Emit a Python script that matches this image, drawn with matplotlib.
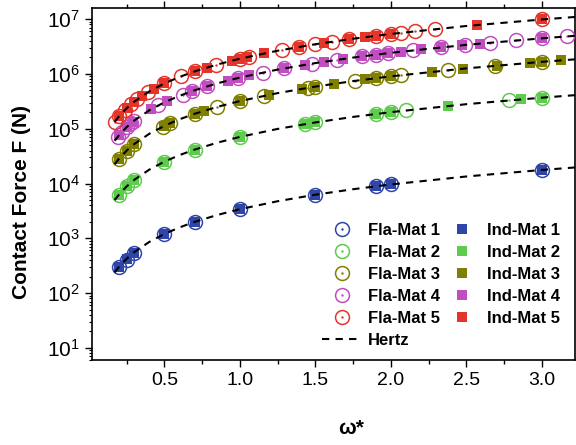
import numpy as np
import matplotlib.pyplot as plt
from matplotlib.legend_handler import HandlerTuple

plt.rcParams['font.family'] = ['Liberation Sans', 'DejaVu Sans']
plt.rcParams['mathtext.default'] = 'regular'

# ---- data ----
x_fla1 = [0.2, 0.25, 0.3, 0.5, 0.7, 1.0, 1.5, 1.9, 2.0, 3.0]
f_fla1 = [300, 410, 540, 1180, 1960, 3400, 6200, 8900, 9600, 17700]
x_ind1 = [0.2, 0.25, 0.3, 0.5, 0.7, 1.0, 1.5, 1.9, 2.0, 3.0]
f_ind1 = [295, 420, 550, 1200, 1990, 3420, 6250, 8950, 9650, 17800]

x_fla2 = [0.2, 0.25, 0.3, 0.5, 0.7, 1.0, 1.43, 1.5, 1.9, 2.0, 2.1, 2.78, 3.0]
f_fla2 = [6200, 8875, 11670, 25100, 41590, 71000, 121400, 130400, 186000, 200800, 216000, 329000, 368900]
x_ind2 = [0.2, 0.25, 0.3, 0.5, 0.7, 1.0, 1.43, 1.5, 1.9, 2.0, 2.38, 2.86, 3.0]
f_ind2 = [6250, 8900, 11700, 25200, 41700, 71200, 121800, 130800, 186500, 201500, 260700, 343400, 369500]

x_fla3 = [0.2, 0.25, 0.3, 0.49, 0.54, 0.7, 0.85, 1.0, 1.16, 1.45, 1.5, 1.76, 1.9, 2.0, 2.07, 2.38, 2.69, 3.0]
f_fla3 = [28600, 40000, 52600, 109800, 127000, 187400, 250800, 320000, 399700, 558700, 587800,
          747200, 838100, 905000, 953000, 1175000, 1412000, 1663000]
x_ind3 = [0.2, 0.25, 0.3, 0.5, 0.54, 0.7, 0.76, 1.0, 1.19, 1.41, 1.5, 1.62, 1.83, 1.9, 2.0,
          2.27, 2.48, 2.7, 2.92, 3.0, 3.13]
f_ind3 = [28600, 40000, 52600, 113200, 127000, 187400, 212000, 320000, 415400, 535700, 587800,
          659800, 792300, 838100, 905000, 1094000, 1250000, 1420000, 1597000, 1663000, 1772000]

x_fla4 = [0.19, 0.22, 0.25, 0.28, 0.3, 0.46, 0.62, 0.68, 0.78, 0.99, 1.15, 1.29, 1.48, 1.64,
          1.81, 1.9, 1.98, 2.15, 2.33, 2.49, 2.66, 2.83, 3.0, 3.17]
f_fla4 = [71200, 88800, 107500, 127300, 141300, 268300, 419700, 482500, 592500, 847100, 1060000,
          1260000, 1548000, 1806000, 2094000, 2252000, 2396000, 2711000, 3059000, 3380000,
          3731000, 4094000, 4469000, 4854000]
x_ind4 = [0.2, 0.25, 0.29, 0.41, 0.52, 0.68, 0.78, 0.92, 0.99, 1.06, 1.29, 1.43, 1.56, 1.68,
          1.81, 1.9, 1.98, 2.07, 2.2, 2.33, 2.47, 2.59, 3.0]
f_ind4 = [76900, 107500, 134200, 225800, 322500, 482500, 592500, 758900, 847100, 938300,
          1260000, 1471000, 1675000, 1873000, 2094000, 2252000, 2396000, 2561000, 2806000,
          3059000, 3339000, 3584000, 4469000]

x_fla5 = [0.17, 0.2, 0.24, 0.28, 0.32, 0.39, 0.5, 0.61, 0.7, 0.84, 1.0, 1.06, 1.28, 1.39, 1.5,
          1.61, 1.72, 1.9, 2.0, 2.07, 2.16, 2.29, 3.0]
f_fla5 = [133200, 169900, 223400, 281200, 343900, 462800, 671800, 905200, 1113000, 1463000,
          1900000, 2073000, 2751000, 3114000, 3490000, 3882000, 4286000, 4976000, 5373000,
          5658000, 6033000, 6584000, 9872000]
x_ind5 = [0.2, 0.25, 0.3, 0.35, 0.43, 0.5, 0.7, 0.78, 0.95, 1.0, 1.05, 1.16, 1.39, 1.56, 1.72,
          1.83, 1.9, 2.0, 2.57, 3.0]
f_ind5 = [169900, 237500, 312200, 393300, 535800, 671800, 1113000, 1309000, 1759000, 1900000,
          2044000, 2373000, 3114000, 3701000, 4286000, 4704000, 4976000, 5373000, 7828000, 9872000]

# Hertz curves
x_hertz = [0.17, 0.2, 0.25, 0.3, 0.4, 0.5, 0.6, 0.7, 0.85, 1.0, 1.25, 1.5, 1.75, 2.0, 2.5, 3.0, 3.22]
hertz1 = [238, 304, 425, 559, 860, 1202, 1580, 1991, 2665, 3400, 4752, 6246, 7871, 9615, 13440, 17670, 19645]
hertz2 = [4977, 6350, 8875, 11670, 17960, 25100, 33000, 41590, 55640, 71000, 99220, 130400, 164400,
          200800, 280700, 368900, 410200]
hertz3 = [22430, 28600, 40000, 52580, 80960, 113150, 148700, 187400, 250800, 320000, 447200, 587800,
          740800, 905000, 1265000, 1663000, 1849000]
hertz4 = [60290, 76900, 107500, 141300, 217600, 304100, 399700, 503700, 674000, 860000, 1202000,
          1580000, 1991000, 2432000, 3400000, 4469000, 4969000]
hertz5 = [133200, 169900, 237500, 312200, 480700, 671800, 883100, 1113000, 1489000, 1900000, 2655000,
          3490000, 4399000, 5373000, 7511000, 9872000, 10980000]

names = ['Mat 1', 'Mat 2', 'Mat 3', 'Mat 4', 'Mat 5']
colors = ['#2F45A8', '#5DCB4C', '#808000', '#C04EC0', '#E5352B']
fla = [(x_fla1, f_fla1), (x_fla2, f_fla2), (x_fla3, f_fla3), (x_fla4, f_fla4), (x_fla5, f_fla5)]
ind = [(x_ind1, f_ind1), (x_ind2, f_ind2), (x_ind3, f_ind3), (x_ind4, f_ind4), (x_ind5, f_ind5)]
hertz = [hertz1, hertz2, hertz3, hertz4, hertz5]

fig = plt.figure(figsize=(5.76, 4.45), dpi=100)
ax = fig.add_axes([92/576, 1-360/445, (575-92)/576, (360-8)/445])

h_fla = []
h_ind = []
for i in range(5):
    c = colors[i]
    hf, = ax.plot(fla[i][0], fla[i][1], 'o', mfc='none', mec=c, ms=10, mew=1.1, zorder=3)
    hd, = ax.plot(fla[i][0], fla[i][1], '.', color=c, ms=1.5, zorder=3)
    hi, = ax.plot(ind[i][0], ind[i][1], 's', color=c, ms=6.5, mew=0, zorder=2)
    h_fla.append((hf, hd))
    h_ind.append(hi)
for i in range(5):
    hh, = ax.plot(x_hertz, hertz[i], '--', color='k', lw=1.5, dashes=(3.5, 3), zorder=4)

ax.set_yscale('log')
ax.set_xlim(0.02, 3.22)
ax.set_ylim(6, 1.6e7)
ax.set_xticks([0.5, 1.0, 1.5, 2.0, 2.5, 3.0])
ax.set_xticks(np.arange(0.25, 3.2, 0.25), minor=True)
ax.set_yticks([1e1, 1e2, 1e3, 1e4, 1e5, 1e6, 1e7])
ax.tick_params(axis='x', which='major', direction='out', length=5, width=1, labelsize=14, top=True)
ax.tick_params(axis='x', which='minor', direction='out', length=3, width=1, top=True)
ax.tick_params(axis='y', which='major', direction='out', length=5, width=1, labelsize=15)
ax.tick_params(axis='y', which='minor', direction='out', length=2.5, width=0.8)
for s in ax.spines.values():
    s.set_linewidth(1.2)

ax.set_ylabel('Contact Force F (N)', fontsize=15, fontweight='bold')
ax.yaxis.set_label_coords(-0.126, 0.449)
ax.set_xlabel('ω*', fontsize=15, fontweight='bold')
ax.xaxis.set_label_coords(0.536, -0.168)

handles = h_fla + [hh] + h_ind
labels = ['Fla-' + n for n in names] + ['Hertz'] + ['Ind-' + n for n in names]
ax.legend(handles, labels, ncol=2, frameon=False, loc='upper left',
          bbox_to_anchor=(322/576, 1-223/445), bbox_transform=fig.transFigure,
          borderpad=0, borderaxespad=0, handlelength=2.4, handletextpad=0.35,
          columnspacing=0.1, labelspacing=0.42,
          prop={'weight': 'bold', 'size': 12},
          handler_map={tuple: HandlerTuple(ndivide=1)})

fig.savefig('out.png', dpi=100)
